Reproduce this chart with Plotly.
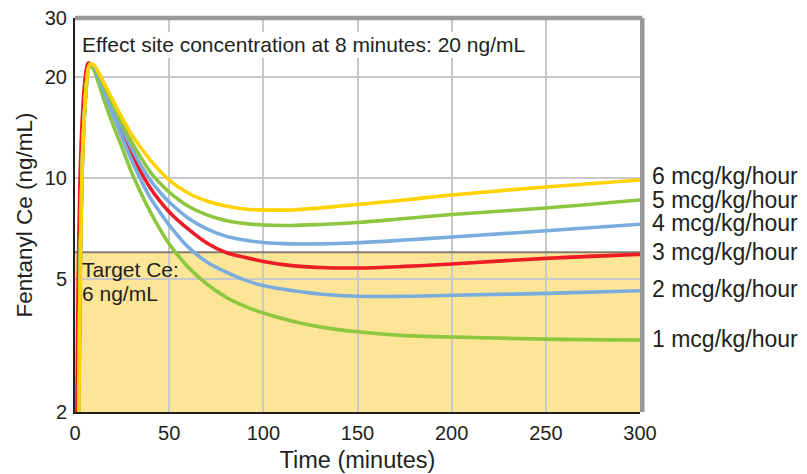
import math
import plotly.graph_objects as go

# ---------------- data ----------------
TARGET_CE = 6
X_TICKS = [0, 50, 100, 150, 200, 250, 300]
Y_TICKS = [2, 5, 10, 20, 30]

# common rising phase (non-red curves), minutes / ng/mL
RISE_T = [1.5, 2, 2.5, 3, 3.5, 4, 5, 6, 7]
RISE_V = [1.0, 1.9, 4.0, 6.5, 9.0, 11.5, 15.5, 18.8, 21.0]

# red curve rises slightly earlier
RED_RISE_T = [0.5, 1, 1.5, 2, 2.5, 3, 4, 5, 6, 7]
RED_RISE_V = [1.0, 1.9, 4.0, 6.5, 9.0, 11.5, 15.5, 18.8, 21.0, 22.0]

# decay / plateau phase
DECAY_T = [8, 10, 13, 16, 20, 25, 30, 35, 40, 45, 50, 60, 70, 80, 90, 100,
           115, 130, 150, 175, 200, 250, 300]
rate6 = [21.8, 21.7, 20.4, 18.9, 17.1, 15.1, 13.5, 12.3, 11.3, 10.5, 9.85, 9.01, 8.53,
         8.24, 8.07, 8.02, 8.02, 8.13, 8.33, 8.59, 8.89, 9.39, 9.85]
rate5 = [21.8, 21.6, 20.1, 18.5, 16.6, 14.5, 12.8, 11.5, 10.4, 9.65, 9.07, 8.24, 7.75,
         7.46, 7.31, 7.23, 7.21, 7.26, 7.36, 7.56, 7.77, 8.13, 8.59]
rate4 = [21.8, 21.5, 20.0, 18.3, 16.3, 14.1, 12.3, 10.9, 9.85, 9.07, 8.47, 7.59, 7.04,
         6.70, 6.52, 6.41, 6.35, 6.35, 6.40, 6.52, 6.66, 6.95, 7.27]
rate3 = [21.9, 21.5, 19.9, 18.0, 15.9, 13.7, 11.9, 10.4, 9.33, 8.53, 7.91, 7.04, 6.39,
         5.99, 5.79, 5.63, 5.47, 5.40, 5.38, 5.44, 5.53, 5.75, 5.91]
rate2 = [21.8, 21.4, 19.6, 17.7, 15.5, 13.2, 11.3, 9.85, 8.71, 7.91, 7.23, 6.22, 5.61,
         5.24, 4.96, 4.77, 4.61, 4.50, 4.43, 4.43, 4.46, 4.52, 4.60]
rate1 = [21.8, 21.0, 18.8, 16.7, 14.5, 12.3, 10.4, 9.01, 7.91, 7.04, 6.35, 5.42, 4.82,
         4.41, 4.14, 3.95, 3.74, 3.59, 3.47, 3.38, 3.35, 3.30, 3.28]

LABELS = ["1 mcg/kg/hour", "2 mcg/kg/hour", "3 mcg/kg/hour",
          "4 mcg/kg/hour", "5 mcg/kg/hour", "6 mcg/kg/hour"]

# ---------------- styling ----------------
FONT = "Liberation Sans, Arial, Helvetica, sans-serif"
TXT = "#231f20"
C_YEL = "#ffd200"
C_GRN = "#8dc63f"
C_BLU = "#7aacdd"
C_RED = "#ed1c24"

series = [  # (label, values, color, is_red) in drawing order
    (LABELS[2], rate3, C_RED, True),
    (LABELS[0], rate1, C_GRN, False),
    (LABELS[1], rate2, C_BLU, False),
    (LABELS[3], rate4, C_BLU, False),
    (LABELS[4], rate5, C_GRN, False),
    (LABELS[5], rate6, C_YEL, False),
]
label_shift = {LABELS[0]: 1, LABELS[1]: 2, LABELS[2]: 2,
               LABELS[3]: 1, LABELS[4]: 0, LABELS[5]: 4}

fig = go.Figure()

# target line
fig.add_trace(go.Scatter(x=[X_TICKS[0], X_TICKS[-1]], y=[TARGET_CE, TARGET_CE],
                         mode="lines", line=dict(color="#857b6e", width=2),
                         hoverinfo="skip", showlegend=False))

for name, vals, col, is_red in series:
    if is_red:
        xs = RED_RISE_T + DECAY_T
        ys = RED_RISE_V + vals
    else:
        xs = RISE_T + DECAY_T
        ys = RISE_V + vals
    fig.add_trace(go.Scatter(x=xs, y=ys, mode="lines", name=name,
                             line=dict(color=col, width=3.6, shape="spline", smoothing=1.0),
                             showlegend=False))
    fig.add_annotation(x=1, xref="paper", xanchor="left", xshift=10,
                       y=math.log10(vals[-1]), yref="y", yanchor="middle",
                       yshift=label_shift[name], text=name, showarrow=False,
                       font=dict(family=FONT, size=23, color=TXT))

# target area fill
fig.add_shape(type="rect", xref="x", yref="y", x0=X_TICKS[0], x1=X_TICKS[-1],
              y0=Y_TICKS[0], y1=TARGET_CE, fillcolor="#fde597", line=dict(width=0),
              layer="below")

# white box behind header text
fig.add_shape(type="rect", xref="paper", yref="paper", x0=0.002, x1=0.807,
              y0=0.8985, y1=0.9645, fillcolor="white", line=dict(width=0), layer="above")

fig.add_annotation(x=0.009, xref="paper", xanchor="left", y=0.9315, yref="paper",
                   yanchor="middle", showarrow=False,
                   text="Effect site concentration at 8 minutes: 20 ng/mL",
                   font=dict(family=FONT, size=21, color=TXT))
fig.add_annotation(x=0.009, xref="paper", xanchor="left", y=math.log10(TARGET_CE), yref="y",
                   yanchor="middle", yshift=-17, showarrow=False, text="Target Ce:",
                   font=dict(family=FONT, size=21, color=TXT))
fig.add_annotation(x=0.009, xref="paper", xanchor="left", y=math.log10(TARGET_CE), yref="y",
                   yanchor="middle", yshift=-41, showarrow=False, text="6 ng/mL",
                   font=dict(family=FONT, size=21, color=TXT))

# top & right grey frame
fig.add_shape(type="line", xref="paper", yref="paper", x0=0, x1=1.004, y0=1, y1=1,
              line=dict(color="#999999", width=4.5), layer="above")
fig.add_shape(type="line", xref="paper", yref="paper", x0=1.004, x1=1.004, y0=0, y1=1,
              line=dict(color="#999999", width=4.5), layer="above")

EPS = 1e-6
fig.update_xaxes(range=[X_TICKS[0], X_TICKS[-1]], tickvals=X_TICKS,
                 ticktext=[str(v) for v in X_TICKS],
                 showgrid=True, gridcolor="#c8c8c8", gridwidth=1.5,
                 showline=True, linecolor="#231f20", linewidth=2,
                 ticks="outside", ticklen=2, tickcolor="rgba(0,0,0,0)",
                 tickfont=dict(family=FONT, size=20, color=TXT),
                 ticklabeloverflow="allow",
                 title=dict(text="Time (minutes)", standoff=9,
                            font=dict(family=FONT, size=23.5, color=TXT)),
                 zeroline=False, automargin=False)
fig.update_yaxes(type="log",
                 range=[math.log10(Y_TICKS[0]) - EPS, math.log10(Y_TICKS[-1]) + EPS],
                 tickvals=Y_TICKS, ticktext=[str(v) for v in Y_TICKS],
                 showgrid=True, gridcolor="#c8c8c8", gridwidth=1.5,
                 showline=True, linecolor="#231f20", linewidth=2,
                 ticks="outside", ticklen=2, tickcolor="rgba(0,0,0,0)",
                 tickfont=dict(family=FONT, size=20, color=TXT),
                 ticklabeloverflow="allow",
                 title=dict(text="Fentanyl Ce (ng/mL)", standoff=6,
                            font=dict(family=FONT, size=22.5, color=TXT)),
                 zeroline=False, automargin=False)

# page body adds an 8px offset, so the figure is sized/positioned to compensate
fig.update_layout(width=807, height=466,
                  margin=dict(l=67, r=175, t=10, b=62, pad=0),
                  paper_bgcolor="white", plot_bgcolor="white",
                  showlegend=False)

fig.write_html("out.html")
